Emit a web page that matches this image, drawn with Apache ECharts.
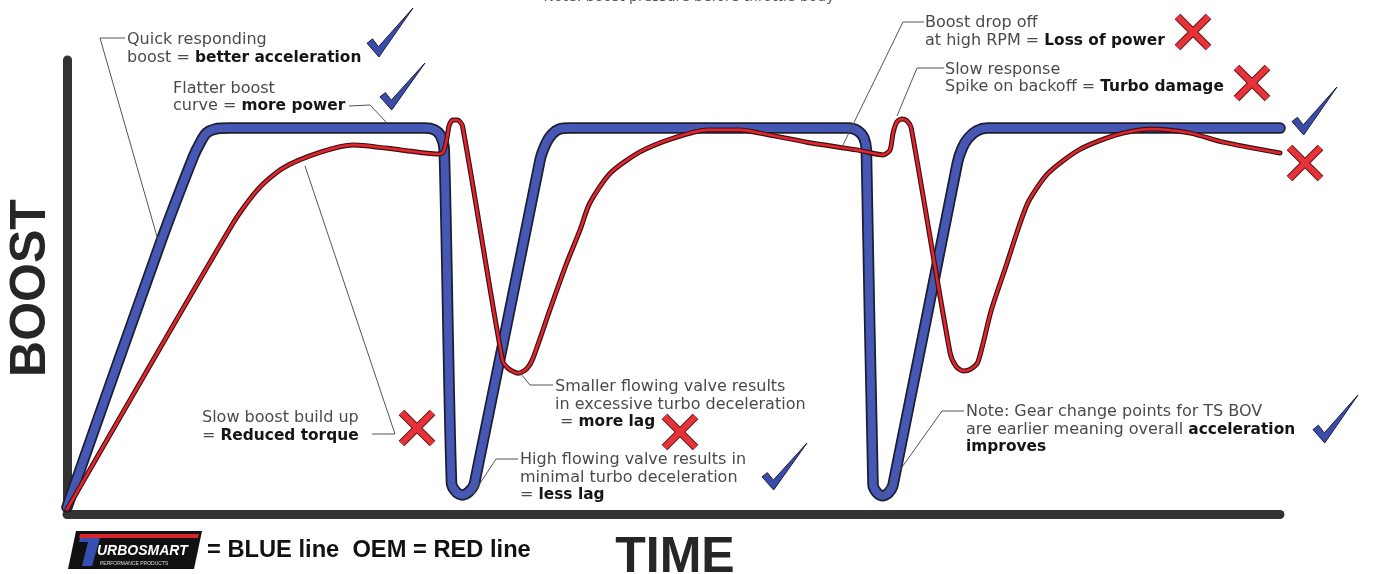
<!DOCTYPE html>
<html>
<head>
<meta charset="utf-8">
<script src="https://cdn.jsdelivr.net/npm/echarts@6/dist/echarts.min.js"></script>
<style>
html,body{margin:0;padding:0;background:#fff;}
#main{width:1375px;height:574px;}
</style>
</head>
<body>
<div id="main"></div>
<script>
// ---- Data (time and boost in arbitrary units) ----
const blueTime  = [0, 7.7, 10.4, 11.0, 11.5, 12.2, 13.4, 29.5, 30.3, 30.8, 31.1, 31.7, 32.1, 32.6, 33.1, 33.6, 39.0, 39.5, 40.0, 40.6, 41.5, 64.4, 65.2, 65.7, 65.9, 66.45, 66.8, 67.2, 67.7, 68.1, 73.4, 73.8, 74.3, 75.0, 75.9, 100];
const blueBoost = [1.5, 59.7, 78.6, 81.9, 83.9, 84.8, 85, 85, 84.6, 83.3, 80.2, 6.8, 4.8, 4.2, 4.8, 6.8, 78.0, 81.7, 83.7, 84.8, 85, 85, 84.4, 82.8, 80.2, 6.4, 4.6, 4.0, 4.6, 6.4, 77.3, 80.6, 82.8, 84.4, 85, 85];
const redTime   = [0, 13.7, 15.7, 17.8, 20.9, 23.6, 27.5, 30.5, 31.0, 31.3, 31.5, 31.8, 32.2, 32.6, 35.9, 36.4, 37.2, 37.9, 38.4, 39.8, 41.2, 42.3, 43.1, 44.8, 47.2, 50.0, 52.8, 55.5, 57.1, 61.0, 65.1, 67.3, 67.85, 68.1, 68.4, 68.8, 69.25, 69.6, 72.8, 73.3, 73.9, 74.5, 75.1, 76.2, 77.5, 78.5, 79.3, 80.9, 83.5, 86.5, 89.3, 92.6, 95.3, 100];
const redBoost  = [1, 64.1, 71.4, 76.2, 79.7, 81.3, 80.2, 79.3, 79.7, 82.4, 85.5, 86.8, 86.8, 85.5, 33.9, 32.0, 31.0, 32.0, 34.2, 44.9, 55.3, 62.6, 68.5, 75.1, 79.7, 82.8, 84.6, 84.6, 83.9, 81.9, 80.2, 79.1, 80.2, 83.9, 86.3, 87.0, 86.6, 85.0, 35.5, 32.5, 31.5, 31.9, 33.5, 44.9, 55.3, 63.5, 69.0, 75.1, 80.3, 83.5, 84.8, 83.9, 81.9, 79.5];
const yTitle = 'BOOST';
const xTitle = 'TIME';

const pairs = (xs, ys) => xs.map((x, i) => [x, ys[i]]);
const blueData = pairs(blueTime, blueBoost);
const redData = pairs(redTime, redBoost);

const FONT = 'DejaVu Sans';
const GRAY = '#4a4a4a';
const DARK = '#151515';
const NS = 16, BS = 15.4, LH = 17.5;
const richB = { fontWeight: 'bold', fill: DARK, fontSize: BS, fontFamily: FONT, lineHeight: LH };
const richN = { fill: GRAY, fontSize: NS, fontFamily: FONT, lineHeight: LH };

function note(x, top, text) {
  return { type: 'text', x: x, y: top, z: 50, style: {
    text: text, fill: GRAY, fontSize: NS, fontFamily: FONT, lineHeight: LH,
    verticalAlign: 'top', textVerticalAlign: 'top', align: 'left',
    rich: { b: richB, n: richN }
  }};
}
function leader(points) {
  return { type: 'polyline', z: 40, shape: { points: points }, style: { stroke: '#555', lineWidth: 1, fill: null } };
}
function check(x0, y0, w, h) {
  const p = [[0, 0.72], [0.12, 0.63], [0.25, 0.79], [1.0, 0.0], [0.26, 1.0]].map(q => [x0 + q[0] * w, y0 + q[1] * h]);
  return { type: 'polygon', z: 45, shape: { points: p }, style: { fill: '#3b4ca8', stroke: '#1c1f40', lineWidth: 1 } };
}
function cross(cx, cy, s) {
  const h = s / 2;
  const segs = [[[cx - h, cy - h], [cx + h, cy + h]], [[cx + h, cy - h], [cx - h, cy + h]]];
  const out = [];
  segs.forEach(sg => out.push({ type: 'polyline', z: 44, shape: { points: sg }, style: { stroke: '#5a1a1a', lineWidth: 8, lineCap: 'butt' } }));
  segs.forEach(sg => out.push({ type: 'polyline', z: 45, shape: { points: sg }, style: { stroke: '#e8323a', lineWidth: 6, lineCap: 'butt' } }));
  return out;
}

const chart = echarts.init(document.getElementById('main'));
const graphics = [
  // cut off note at very top
  { type: 'text', x: 689, y: -3, style: { text: 'Note: boost pressure before throttle body', fill: '#555', fontSize: 14, fontFamily: FONT, align: 'center', verticalAlign: 'middle', textAlign: 'center', textVerticalAlign: 'middle' } },
  // axis titles
  { type: 'text', x: 31, y: 288, rotation: Math.PI / 2, style: { text: yTitle, fill: '#262626', fontSize: 50, fontFamily: 'Liberation Sans', fontWeight: 'bold', align: 'center', verticalAlign: 'middle', textAlign: 'center', textVerticalAlign: 'middle' } },
  { type: 'text', x: 675, y: 558, style: { text: xTitle, fill: '#262626', fontSize: 50, fontFamily: 'Liberation Sans', fontWeight: 'bold', align: 'center', verticalAlign: 'middle', textAlign: 'center', textVerticalAlign: 'middle' } },
  // annotations
  note(127, 31.5, 'Quick responding\n{n|boost = }{b|better acceleration}'),
  leader([[125, 38], [100, 38], [158, 240]]),
  note(173, 80, 'Flatter boost\n{n|curve = }{b|more power}'),
  leader([[349, 106], [370, 105], [387, 123]]),
  note(925, 14.5, 'Boost drop off\n{n|at high RPM = }{b|Loss of power}'),
  leader([[924, 22], [903, 22], [843, 145]]),
  note(945, 61, 'Slow response\n{n|Spike on backoff = }{b|Turbo damage}'),
  leader([[944, 68], [917, 68], [897, 116]]),
  note(202, 409.5, 'Slow boost build up\n{n|= }{b|Reduced torque}'),
  leader([[372, 434], [395, 434], [305, 166]]),
  note(555, 378.5, 'Smaller flowing valve results\nin excessive turbo deceleration\n{n| = }{b|more lag}'),
  leader([[553, 385], [530, 385], [521, 374]]),
  note(520, 451.5, 'High flowing valve results in\nminimal turbo deceleration\n{n|= }{b|less lag}'),
  leader([[518, 459], [496, 459], [473, 494]]),
  note(966, 403.5, 'Note: Gear change points for TS BOV\n{n|are earlier meaning overall }{b|acceleration}\n{b|improves}'),
  leader([[964, 411], [942, 411], [880, 498]]),
  // checks
  check(367, 8, 46, 49),
  check(380, 63, 45, 47),
  check(1292, 87, 45, 48),
  check(762, 443, 45, 47),
  check(1313, 395, 45, 48),
  // crosses
  ...cross(1193, 32, 31),
  ...cross(1252, 83, 31),
  ...cross(1305, 163, 31),
  ...cross(417, 428, 31),
  ...cross(680, 432, 31),
  // legend / logo
  { type: 'polygon', z: 30, shape: { points: [[76, 531], [202, 531], [194, 569], [68, 569]] }, style: { fill: '#111' } },
  { type: 'polygon', z: 31, shape: { points: [[80, 534], [199, 534], [198, 538], [79, 538]] }, style: { fill: '#d8262b' } },
  { type: 'polygon', z: 31, shape: { points: [[80, 538], [100, 538], [92, 566], [82, 566], [88, 542], [79, 542]] }, style: { fill: '#3550b0' } },
  { type: 'text', z: 32, x: 97, y: 551, style: { text: 'URBOSMART', fill: '#fff', fontSize: 14, fontFamily: 'Liberation Sans', fontWeight: 'bold', fontStyle: 'italic', verticalAlign: 'middle', textVerticalAlign: 'middle' } },
  { type: 'text', z: 32, x: 100, y: 564, style: { text: 'PERFORMANCE PRODUCTS', fill: '#ddd', fontSize: 5, fontFamily: 'Liberation Sans', verticalAlign: 'middle', textVerticalAlign: 'middle' } },
  { type: 'text', z: 32, x: 207, y: 550, style: { text: '= BLUE line  OEM = RED line', fill: '#111', fontSize: 23.7, fontFamily: 'Liberation Sans', fontWeight: 'bold', verticalAlign: 'middle', textVerticalAlign: 'middle' } }
];

const lineCommon = { type: 'line', showSymbol: false, symbol: 'none', smooth: 0.25, clip: false, silent: true };
chart.setOption({
  animation: false,
  backgroundColor: '#fff',
  grid: { left: 67, right: 95, top: 60, bottom: 60 },
  xAxis: { type: 'value', min: 0, max: 100, axisLabel: { show: false }, axisTick: { show: false }, splitLine: { show: false },
           axisLine: { show: true, lineStyle: { color: '#333', width: 9 } } },
  yAxis: { type: 'value', min: 0, max: 100, axisLabel: { show: false }, axisTick: { show: false }, splitLine: { show: false },
           axisLine: { show: true, lineStyle: { color: '#333', width: 9 } } },
  series: [
    Object.assign({}, lineCommon, { name: 'Turbosmart outline', data: blueData, z: 2, lineStyle: { color: '#1c1e33', width: 11.5, cap: 'round', join: 'round' } }),
    Object.assign({}, lineCommon, { name: 'Turbosmart', data: blueData, z: 3, lineStyle: { color: '#4657b4', width: 8, cap: 'round', join: 'round' } }),
    Object.assign({}, lineCommon, { name: 'OEM outline', data: redData, z: 4, lineStyle: { color: '#3a1214', width: 5, cap: 'round', join: 'round' } }),
    Object.assign({}, lineCommon, { name: 'OEM', data: redData, z: 5, lineStyle: { color: '#e3262d', width: 2.6, cap: 'round', join: 'round' } })
  ],
  graphic: graphics
});
</script>
</body>
</html>
